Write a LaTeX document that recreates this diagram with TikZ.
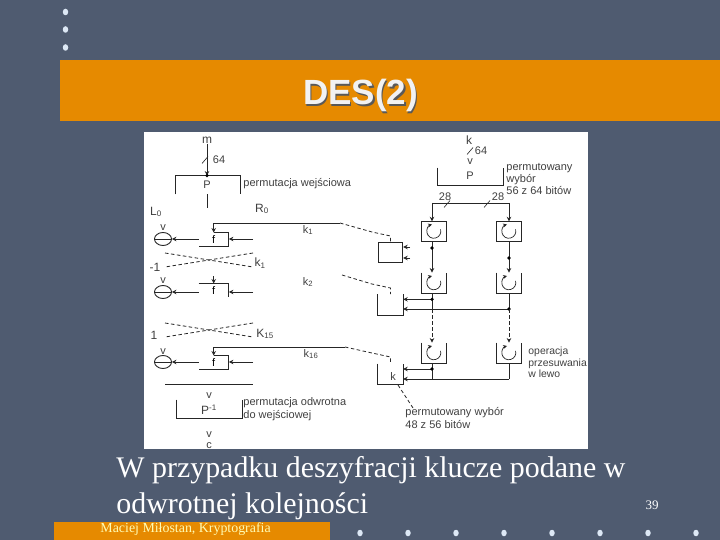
\documentclass[tikz,border=0pt]{standalone}
\usepackage{fontspec}
\usepackage{xcolor}
\setmainfont{Liberation Serif}
\setsansfont{Liberation Sans}
\usetikzlibrary{arrows.meta, shapes.geometric}
\definecolor{slatebg}{HTML}{4F5B70}
\definecolor{barorange}{HTML}{E68A00}
\definecolor{dotblue}{HTML}{DDE8F5}
\tikzset{desslide/.style={
    x=1pt, y=-1pt, line width=0.9pt, black!85,
    lbl/.style={inner sep=0pt, align=left, text=black!75, font=\sffamily\fontsize{11}{12}\selectfont},
    biglbl/.style={lbl, font=\sffamily\fontsize{12}{13}\selectfont},
    reg/.style={minimum width=24.5pt, minimum height=20pt, inner sep=0pt},
    fbox/.style={minimum width=29.5pt, minimum height=13pt, inner sep=0pt, text=black, font=\sffamily\fontsize{11}{12}\selectfont},
    xorc/.style={ellipse, draw, minimum width=17pt, minimum height=13pt, inner sep=0pt},
    jdot/.style={circle, fill=black, minimum size=3.6pt, inner sep=0pt},
    pdot/.style={ellipse, fill=dotblue, minimum width=5.5pt, minimum height=6.5pt, inner sep=0pt},
    arr/.style={-{Stealth[length=4.5pt, width=4.5pt]}},
    keyline/.style={dash pattern=on 3.5pt off 2.5pt, line width=0.8pt},
}}

\begin{document}
\begin{tikzpicture}[desslide]
    \useasboundingbox (0,0) rectangle (720,540);
    \fill[slatebg] (0,0) rectangle (720,540);
    \fill[barorange] (60,60) rectangle (720,121);
    \fill[barorange] (54,522) rectangle (330,540);
    \fill[white] (144,132) rectangle (588,449);

    % slide texts
    \node[text=black!65, font=\sffamily\bfseries\fontsize{35}{38}\selectfont] (titleshadow) at (362,97) {DES(2)};
    \node[text=black!5, font=\sffamily\bfseries\fontsize{35}{38}\selectfont] (title) at (360.5,95.5) {DES(2)};
    \node[anchor=base west, inner sep=0pt, text=white, font=\fontsize{29.9}{32}\selectfont] (line1) at (116,477) {W przypadku deszyfracji klucze podane w};
    \node[anchor=base west, inner sep=0pt, text=white, font=\fontsize{29.9}{32}\selectfont] (line2) at (116,513) {odwrotnej kolejności};
    \node[anchor=base west, inner sep=0pt, text=yellow!30, font=\fontsize{13.9}{15}\selectfont] (footer) at (100,532) {Maciej Miłostan, Kryptografia};
    \node[text=white, font=\fontsize{13}{15}\selectfont] (pageno) at (652,505) {39};
    \foreach \y [count=\i] in {12,29.5,47.5}
        \node[pdot] (vd\i) at (65.5,\y) {};
    \foreach \x [count=\i] in {360,408,456,504,552,600,648,696}
        \node[pdot] (hd\i) at (\x,533) {};

    % left column
    \node[biglbl] (m) at (207,140) {m};
    \node[lbl] (m64) at (219,160) {64};
    \node[minimum width=64pt, minimum height=18pt, inner sep=0pt] (P) at (208,185) {};
    \node[lbl] (Plbl) at (207,185) {P};
    \node[lbl, anchor=west] (Ptxt) at (243,184) {permutacja wejściowa};
    \coordinate (Pout) at (207,208);
    \node[biglbl] (L0) at (156,212) {L\textsubscript{0}};
    \node[biglbl] (R0) at (262,209) {R\textsubscript{0}};

    \node[fbox] (f1) at (213.7,239.5) {f};
    \node[fbox] (f2) at (213.7,290.5) {f};
    \node[fbox] (f3) at (213.7,362.5) {f};
    \node[xorc] (x1) at (163,239) {};
    \node[xorc] (x2) at (163,292) {};
    \node[xorc] (x3) at (163,362) {};
    \foreach \n/\y in {1/228, 2/281, 3/352} {
        \node[lbl] (xv\n) at (163,\y) {v};
        \draw (x\n.west) -- (x\n.east);
    }
    \coordinate (in1) at (253,239);
    \coordinate (in2) at (253,292);
    \coordinate (in3) at (253,362);
    \draw[arr] (f1.west |- x1) -- (x1);
    \draw[arr] (f2.west |- x2) -- (x2);
    \draw[arr] (f3.west |- x3) -- (x3);
    \draw[arr] (in1) -- (f1.east |- in1);
    \draw[arr] (in2) -- (f2.east |- in2);
    \draw[arr] (in3) -- (f3.east |- in3);
    \draw (f1.north) -- (f1.north east) -- (f1.south east) -- (f1.south west);
    \draw (f2.north west) -- (f2.north east) -- (f2.south east);
    \draw (f3.north) -- (f3.north east) -- (f3.south east) -- (f3.south west);

    % crossings
    \foreach \n/\ya/\yb in {a/253/267, b/323/337} {
        \coordinate (\n tl) at (165,\ya);
        \coordinate (\n tr) at (253,\ya);
        \coordinate (\n bl) at (165,\yb);
        \coordinate (\n br) at (253,\yb);
        \draw[keyline] (\n tl) -- (\n br);
        \draw[keyline] (\n tr) -- (\n bl);
    }
    \node[biglbl] (Lone) at (155,267) {-1};
    \node[biglbl] (Rone) at (260,263) {k\textsubscript{1}};
    \node[biglbl] (Lfif) at (154,335) {1};
    \node[biglbl] (Rfif) at (265,334) {K\textsubscript{15}};

    % output
    \coordinate (ol) at (165,384);
    \coordinate (or) at (253,384);
    \draw (ol) -- (or);
    \node[lbl] (ov) at (209,396) {v};
    \node[minimum width=64.5pt, minimum height=18pt, inner sep=0pt] (Pinv) at (209.5,409) {};
    \node[biglbl] (Pinvlbl) at (209,410) {P\textsuperscript{-1}};
    \node[lbl, anchor=north west] (Pinvtxt) at (243,397) {permutacja odwrotna\\[1pt]do wejściowej};
    \node[lbl] (cv) at (209,435) {v};
    \node[lbl] (c) at (209,446) {c};

    % key schedule
    \node[biglbl] (k) at (469,140) {k};
    \node[lbl] (k64) at (481,151) {64};
    \node[lbl] (kv) at (470,162) {v};
    \node[minimum width=65pt, minimum height=17pt, inner sep=0pt] (PC) at (470.5,176.5) {};
    \node[lbl] (PClbl) at (470,176) {P};
    \node[lbl, anchor=north west] (PCtxt) at (506,163) {permutowany\\wybór\\56 z 64 bitów};
    \coordinate (splitl) at (432,203);
    \coordinate (splitr) at (509,203);
    \node[lbl] (c28) at (445,197) {28};
    \node[lbl] (d28) at (498,197) {28};

    \node[reg, minimum height=19.5pt] (c1) at (434,231.5) {};
    \node[reg, minimum height=19.5pt] (d1) at (509,231.5) {};
    \node[reg] (c2) at (434,283) {};
    \node[reg] (d2) at (509,283) {};
    \node[reg] (c3) at (434,353) {};
    \node[reg] (d3) at (509,353) {};
    \node[reg, draw] (K1) at (390.5,252) {};
    \node[reg] (K2) at (390.5,304.5) {};
    \node[reg] (K3) at (390.5,374) {};
    \node[lbl] (K3lbl) at (393,377) {k};

    % slash marks on the buses
    \foreach \n/\x/\y in {ms/205/160, ks/470/151, cs/447/204, ds/487/204} {
        \coordinate (\n a) at (\x-3,\y+3.5);
        \coordinate (\n b) at (\x+3,\y-3.5);
        \draw[line width=0.6pt] (\n a) -- (\n b);
    }

    \draw (splitl) -- (splitr);
    \draw[arr] (splitl) -- (splitl |- c1.north);
    \draw[arr] (splitr) -- (splitr |- d1.north);
    \draw (c1.south west) rectangle (c1.north east);
    \draw (d1.south west) rectangle (d1.north east);
    \foreach \n in {c2,d2,c3,d3,K2,K3,PC,Pinv}
        \draw (\n.north west) -- (\n.south west) -- (\n.south east) -- (\n.north east);
    \draw (P.south west) -- (P.north west) -- (P.north east) -- (P.south east);
    \foreach \n in {c1,d1,c2,d2,c3,d3}
        \draw[{Stealth[length=4pt, width=4pt]}-, line width=0.7pt] ([shift={(-2,-7)}]\n.center) arc (105:375:7pt);

    \draw[arr] (m) -- (m |- P.north);
    \node[jdot] (mdot) at (m |- P.north) {};
    \draw (Plbl |- P.south) -- (Pout);

    \draw[arr] (splitl |- c1.south) -- (splitl |- c2.north);
    \draw[arr] (splitr |- d1.south) -- (splitr |- d2.north);
    \node[jdot] (cd1) at (432,248) {};
    \node[jdot] (dd1) at (509,258) {};

    \coordinate (cm2) at (432,299.3);
    \coordinate (dm2) at (509,309);
    \coordinate (cm3) at (432,369);
    \coordinate (dm3) at (509,379);
    \draw (splitl |- c2.south) -- (splitl |- dm2);
    \draw (splitr |- d2.south) -- (dm2);
    \draw[arr] (cm2) -- (K2.east |- cm2);
    \draw[arr] (dm2) -- (K2.east |- dm2);
    \node[jdot] (cm2dot) at (cm2) {};
    \node[jdot] (dm2dot) at (dm2) {};
    \draw[arr, keyline] (splitl |- dm2) -- (splitl |- c3.north);
    \draw[arr, keyline] (dm2) -- (splitr |- d3.north);
    \draw (splitl |- c3.south) -- (splitl |- dm3);
    \draw (splitr |- d3.south) -- (dm3);
    \draw[arr] (dm3) -- (K3.east |- dm3);
    \draw[arr] (cm3) -- (K3.east |- cm3);
    \node[jdot] (cm3dot) at (cm3) {};

    \coordinate (a1) at (410,247);
    \coordinate (a2) at (410,258);
    \draw[arr] (a1) -- (K1.east |- a1);
    \draw[arr] (a2) -- (K1.east |- a2);

    % subkey lines
    \coordinate (k1s) at (340,223);
    \coordinate (k1m) at (372,232);
    \coordinate (k1e) at (390.5,236);
    \coordinate (k2s) at (342,275);
    \coordinate (k2m) at (372,284);
    \coordinate (k2e) at (390.5,288);
    \coordinate (k3s) at (345,347);
    \coordinate (k3m) at (372,353);
    \coordinate (k3e) at (390.5,357);
    \coordinate (f2in) at (213.7,276);
    \draw[arr] (k1s) -- (f1.north |- k1s) -- (f1.north);
    \draw[arr] (f2in) -- (f2.north);
    \draw[arr] (k3s) -- (f3.north |- k3s) -- (f3.north);
    \draw[keyline] (k1s) -- (k1m) -- (k1e) -- (K1.north);
    \draw[keyline] (k2s) -- (k2m) -- (k2e) -- (K2.north);
    \draw[keyline] (k3s) -- (k3m) -- (k3e) -- (K3.north);
    \node[lbl] (k1lbl) at (308,230) {k\textsubscript{1}};
    \node[lbl] (k2lbl) at (308,282) {k\textsubscript{2}};
    \node[lbl] (k3lbl) at (311,354) {k\textsubscript{16}};

    \node[lbl, anchor=north west, font=\sffamily\fontsize{10.4}{11.5}\selectfont] (shifttxt) at (528,347) {operacja\\przesuwania\\w lewo};
    \node[lbl, anchor=north west] (pc2txt) at (405,407) {permutowany wybór\\[1pt]48 z 56 bitów};
    \coordinate (pc2s) at (398,385);
    \coordinate (pc2e) at (413,408);
    \draw[keyline] (pc2s) -- (pc2e);
\end{tikzpicture}
\end{document}
